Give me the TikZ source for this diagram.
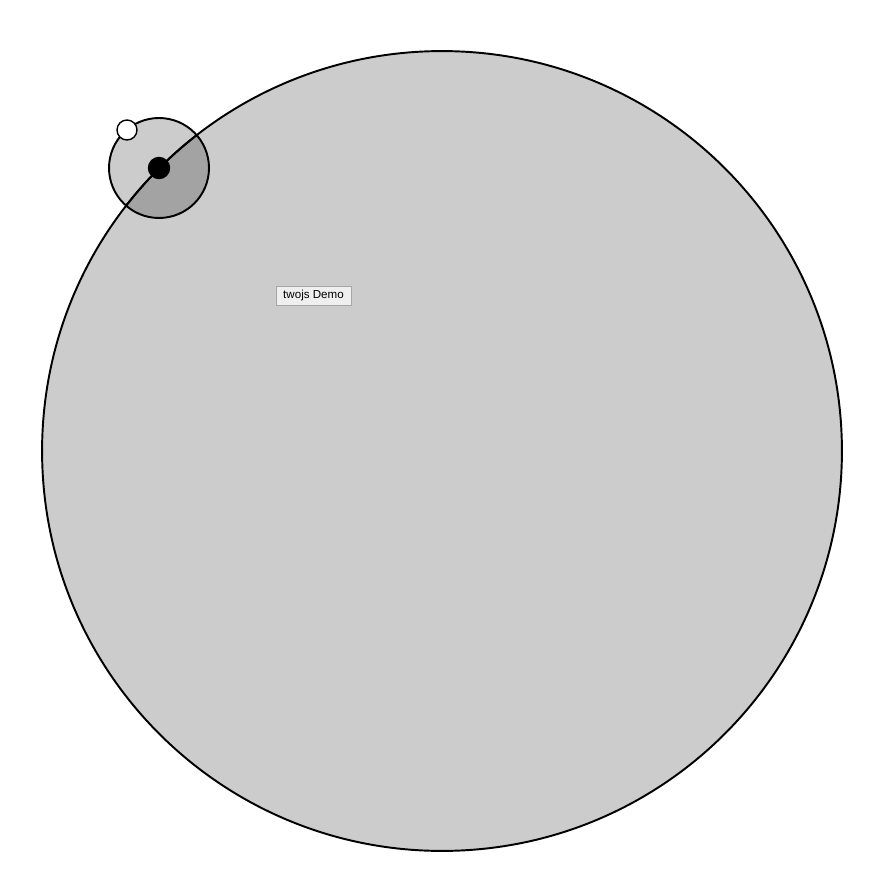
\documentclass[tikz,border=0pt]{standalone}
\usepackage{fontspec}
\setmainfont{Liberation Sans}
\usetikzlibrary{positioning, shadows}

\definecolor{plate}{HTML}{CCCCCC}
\definecolor{btnfill}{HTML}{EFEFEF}

\begin{document}
\begin{tikzpicture}[x=0.02cm, y=-0.02cm,
        ring/.style={circle, draw, line width=1.1pt, inner sep=0pt},
        dot/.style={circle, draw, line width=0.8pt, inner sep=0pt, minimum size=0.4cm},
        btn/.style={draw=gray!70, fill=btnfill, line width=0.3pt, font=\fontsize{6.6pt}{7pt}\selectfont,
                minimum width=1.5cm, minimum height=0.38cm, inner sep=0pt,
                drop shadow={shadow xshift=0.3pt, shadow yshift=-0.4pt, opacity=0.25}}
        ]
        \useasboundingbox (0,0) rectangle (874,881);

        % the large disc
        \node[ring, fill=plate, minimum size=16cm] (world) at (442,451) {};

        % the small lens, darker where it overlaps
        \node[ring, fill=black, fill opacity=0.2, minimum size=2cm] (lens) at (159,168) {};
        \begin{scope}
            \clip (159,168) circle (1cm);
            \draw[line width=1.1pt] (world.center) circle (8cm);
        \end{scope}

        % handles
        \node[dot, fill=black, minimum size=0.42cm] (pivot) at (lens.center) {};
        \node[dot, fill=white] (grip) at (127,130) {};

        % caption button
        \node[btn] (demo) at (313.5,295.5) {twojs Demo};
    \end{tikzpicture}
\end{document}
